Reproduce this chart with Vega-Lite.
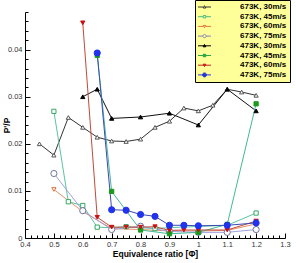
{
  "$schema": "https://vega.github.io/schema/vega-lite/v6.json",
  "width": 260,
  "height": 226,
  "autosize": {"type": "none"},
  "padding": {"left": 25, "top": 12, "right": 11, "bottom": 25},
  "background": "white",
  "config": {"view": {"stroke": null}, "font": "Liberation Sans", "axis": {"labelOverlap": false, "labelFlush": false}},
  "data": {
    "values": [
      {"s": "673K, 30m/s", "x": 0.45, "y": 0.0200},
      {"s": "673K, 30m/s", "x": 0.5, "y": 0.0176},
      {"s": "673K, 30m/s", "x": 0.55, "y": 0.0256},
      {"s": "673K, 30m/s", "x": 0.6, "y": 0.0235},
      {"s": "673K, 30m/s", "x": 0.65, "y": 0.0214},
      {"s": "673K, 30m/s", "x": 0.7, "y": 0.0206},
      {"s": "673K, 30m/s", "x": 0.75, "y": 0.0205},
      {"s": "673K, 30m/s", "x": 0.8, "y": 0.0210},
      {"s": "673K, 30m/s", "x": 0.85, "y": 0.0235},
      {"s": "673K, 30m/s", "x": 0.9, "y": 0.0248},
      {"s": "673K, 30m/s", "x": 0.95, "y": 0.0276},
      {"s": "673K, 30m/s", "x": 1.0, "y": 0.0270},
      {"s": "673K, 30m/s", "x": 1.05, "y": 0.0282},
      {"s": "673K, 30m/s", "x": 1.1, "y": 0.0316},
      {"s": "673K, 30m/s", "x": 1.15, "y": 0.0310},
      {"s": "673K, 30m/s", "x": 1.2, "y": 0.0303},
      {"s": "673K, 45m/s", "x": 0.5, "y": 0.0269},
      {"s": "673K, 45m/s", "x": 0.55, "y": 0.0077},
      {"s": "673K, 45m/s", "x": 0.6, "y": 0.0069},
      {"s": "673K, 45m/s", "x": 0.65, "y": 0.0023},
      {"s": "673K, 45m/s", "x": 0.7, "y": 0.0022},
      {"s": "673K, 45m/s", "x": 0.75, "y": 0.0024},
      {"s": "673K, 45m/s", "x": 0.8, "y": 0.0022},
      {"s": "673K, 45m/s", "x": 0.85, "y": 0.0020},
      {"s": "673K, 45m/s", "x": 0.9, "y": 0.0022},
      {"s": "673K, 45m/s", "x": 1.1, "y": 0.0027},
      {"s": "673K, 45m/s", "x": 1.2, "y": 0.0053},
      {"s": "673K, 60m/s", "x": 0.5, "y": 0.0103},
      {"s": "673K, 60m/s", "x": 0.6, "y": 0.0056},
      {"s": "673K, 60m/s", "x": 0.7, "y": 0.0020},
      {"s": "673K, 60m/s", "x": 0.8, "y": 0.0018},
      {"s": "673K, 60m/s", "x": 0.9, "y": 0.0015},
      {"s": "673K, 60m/s", "x": 1.0, "y": 0.0015},
      {"s": "673K, 60m/s", "x": 1.1, "y": 0.0016},
      {"s": "673K, 60m/s", "x": 1.2, "y": 0.0030},
      {"s": "673K, 75m/s", "x": 0.5, "y": 0.0137},
      {"s": "673K, 75m/s", "x": 0.6, "y": 0.0058},
      {"s": "673K, 75m/s", "x": 0.7, "y": 0.0018},
      {"s": "673K, 75m/s", "x": 0.8, "y": 0.0025},
      {"s": "673K, 75m/s", "x": 0.9, "y": 0.0014},
      {"s": "673K, 75m/s", "x": 1.0, "y": 0.0012},
      {"s": "673K, 75m/s", "x": 1.1, "y": 0.0012},
      {"s": "673K, 75m/s", "x": 1.2, "y": 0.0018},
      {"s": "473K, 30m/s", "x": 0.6, "y": 0.0300},
      {"s": "473K, 30m/s", "x": 0.65, "y": 0.0316},
      {"s": "473K, 30m/s", "x": 0.7, "y": 0.0254},
      {"s": "473K, 30m/s", "x": 0.8, "y": 0.0257},
      {"s": "473K, 30m/s", "x": 0.9, "y": 0.0265},
      {"s": "473K, 30m/s", "x": 1.0, "y": 0.0240},
      {"s": "473K, 30m/s", "x": 1.1, "y": 0.0316},
      {"s": "473K, 30m/s", "x": 1.2, "y": 0.0270},
      {"s": "473K, 45m/s", "x": 0.65, "y": 0.0388},
      {"s": "473K, 45m/s", "x": 0.7, "y": 0.0099},
      {"s": "473K, 45m/s", "x": 0.8, "y": 0.0017},
      {"s": "473K, 45m/s", "x": 0.9, "y": 0.0009},
      {"s": "473K, 45m/s", "x": 1.0, "y": 0.0012},
      {"s": "473K, 45m/s", "x": 1.1, "y": 0.0029},
      {"s": "473K, 45m/s", "x": 1.2, "y": 0.0285},
      {"s": "473K, 60m/s", "x": 0.6, "y": 0.0457},
      {"s": "473K, 60m/s", "x": 0.65, "y": 0.0044},
      {"s": "473K, 60m/s", "x": 0.7, "y": 0.0023},
      {"s": "473K, 60m/s", "x": 0.75, "y": 0.0023},
      {"s": "473K, 60m/s", "x": 0.8, "y": 0.0023},
      {"s": "473K, 60m/s", "x": 0.85, "y": 0.0024},
      {"s": "473K, 60m/s", "x": 0.9, "y": 0.0016},
      {"s": "473K, 60m/s", "x": 0.95, "y": 0.0017},
      {"s": "473K, 60m/s", "x": 1.0, "y": 0.0017},
      {"s": "473K, 60m/s", "x": 1.1, "y": 0.0017},
      {"s": "473K, 60m/s", "x": 1.2, "y": 0.0036},
      {"s": "473K, 75m/s", "x": 0.65, "y": 0.0393},
      {"s": "473K, 75m/s", "x": 0.7, "y": 0.0060},
      {"s": "473K, 75m/s", "x": 0.75, "y": 0.0059},
      {"s": "473K, 75m/s", "x": 0.8, "y": 0.0050},
      {"s": "473K, 75m/s", "x": 0.85, "y": 0.0046},
      {"s": "473K, 75m/s", "x": 0.9, "y": 0.0027},
      {"s": "473K, 75m/s", "x": 0.95, "y": 0.0027},
      {"s": "473K, 75m/s", "x": 1.0, "y": 0.0026},
      {"s": "473K, 75m/s", "x": 1.1, "y": 0.0027},
      {"s": "473K, 75m/s", "x": 1.2, "y": 0.0032}
    ]
  },
  "layer": [
    {
      "mark": {"type": "line", "strokeWidth": 1},
      "encoding": {
        "x": {
          "field": "x", "type": "quantitative",
          "scale": {"domain": [0.4, 1.3], "nice": false, "zero": false},
          "axis": {
            "values": [0.4,0.42,0.44,0.46,0.48,0.5,0.52,0.54,0.56,0.58,0.6,0.62,0.64,0.66,0.68,0.7,0.72,0.74,0.76,0.78,0.8,0.82,0.84,0.86,0.88,0.9,0.92,0.94,0.96,0.98,1.0,1.02,1.04,1.06,1.08,1.1,1.12,1.14,1.16,1.18,1.2,1.22,1.24,1.26,1.28,1.3],
            "tickCount": 200,
            "labelExpr": "abs(datum.value*10-round(datum.value*10))<0.001 ? format(datum.value,'.1~f') : ''",
            "tickSize": {"condition": {"test": "abs(datum.value*10-round(datum.value*10))<0.001", "value": -5}, "value": -3},
            "labelOverlap": false,
            "labelFlush": false,
            "grid": false,
            "domainColor": "#000000",
            "tickColor": "#000000",
            "labelColor": "#333333",
            "labelFontSize": 7.5,
            "labelPadding": 7,
            "title": "Equivalence ratio [Φ]",
            "titleFontSize": 8.5,
            "titleFontWeight": "bold",
            "titleColor": "#000000",
            "titlePadding": 0
          }
        },
        "y": {
          "field": "y", "type": "quantitative",
          "scale": {"domain": [0, 0.048], "nice": false, "zero": true},
          "axis": {
            "values": [0,0.002,0.004,0.006,0.008,0.01,0.012,0.014,0.016,0.018,0.02,0.022,0.024,0.026,0.028,0.03,0.032,0.034,0.036,0.038,0.04,0.042,0.044,0.046,0.048],
            "tickCount": 200,
            "labelExpr": "abs(datum.value*100-round(datum.value*100))<0.001 ? format(datum.value,'.2~f') : ''",
            "tickSize": {"condition": {"test": "abs(datum.value*100-round(datum.value*100))<0.001", "value": -5}, "value": -3},
            "labelOverlap": false,
            "labelFlush": false,
            "grid": false,
            "domainColor": "#000000",
            "tickColor": "#000000",
            "labelColor": "#333333",
            "labelFontSize": 7.5,
            "labelPadding": 8,
            "title": "P'/P",
            "titleFontSize": 8.5,
            "titleFontWeight": "bold",
            "titleColor": "#000000",
            "titlePadding": -4
          }
        },
        "color": {
          "field": "s", "type": "nominal",
          "scale": {
            "domain": ["673K, 30m/s","673K, 45m/s","673K, 60m/s","673K, 75m/s","473K, 30m/s","473K, 45m/s","473K, 60m/s","473K, 75m/s"],
            "range": ["#333333","#5cc4a0","#e8906a","#a0a0dd","#111111","#44b898","#c04a3a","#3a4bb0"]
          },
          "legend": null
        }
      }
    },
    {
      "mark": {"type": "point", "strokeWidth": 1, "opacity": 1},
      "encoding": {
        "x": {"field": "x", "type": "quantitative"},
        "y": {"field": "y", "type": "quantitative"},
        "shape": {
          "field": "s", "type": "nominal",
          "scale": {
            "domain": ["673K, 30m/s","673K, 45m/s","673K, 60m/s","673K, 75m/s","473K, 30m/s","473K, 45m/s","473K, 60m/s","473K, 75m/s"],
            "range": ["triangle-up","square","triangle-down","circle","triangle-up","square","triangle-down","circle"]
          },
          "legend": null
        },
        "stroke": {
          "field": "s", "type": "nominal",
          "scale": {
            "domain": ["673K, 30m/s","673K, 45m/s","673K, 60m/s","673K, 75m/s","473K, 30m/s","473K, 45m/s","473K, 60m/s","473K, 75m/s"],
            "range": ["#555555","#33aa66","#e07040","#7070a0","#000000","#1a9a1a","#cc1111","#2030f0"]
          },
          "legend": null
        },
        "fill": {
          "field": "s", "type": "nominal",
          "scale": {
            "domain": ["673K, 30m/s","673K, 45m/s","673K, 60m/s","673K, 75m/s","473K, 30m/s","473K, 45m/s","473K, 60m/s","473K, 75m/s"],
            "range": ["#ffffff","#ffffff","#ffffff","#ffffff","#000000","#1a9a1a","#cc1111","#2233ee"]
          },
          "legend": null
        },
        "size": {"condition": {"test": "datum.s == '473K, 75m/s' || datum.s == '673K, 75m/s'", "value": 38}, "value": 18}
      }
    },
    {
      "data": {"values": []},
      "mark": {"type": "point", "strokeWidth": 1, "opacity": 1, "size": 25},
      "encoding": {
        "shape": {
          "field": "s", "type": "nominal",
          "scale": {
            "domain": ["673K, 30m/s","673K, 45m/s","673K, 60m/s","673K, 75m/s","473K, 30m/s","473K, 45m/s","473K, 60m/s","473K, 75m/s"],
            "range": [
              "M-1.6,0H0.5M1.5,0H3.6M1,-0.55L1.55,0.4L0.45,0.4Z",
              "M-1.6,0H0.5M1.5,0H3.6M0.5,-0.5H1.5V0.5H0.5Z",
              "M-1.6,0H0.45M1.55,0H3.6M0.45,-0.4H1.55L1,0.55Z",
              "M-1.6,0H0.35M1.65,0H3.6M0.35,0A0.65,0.65 0 1,1 1.65,0A0.65,0.65 0 1,1 0.35,0Z",
              "M-1.6,0H3.6M1,-0.55L1.55,0.4L0.45,0.4Z",
              "M-1.6,0H3.6M0.5,-0.5H1.5V0.5H0.5Z",
              "M-1.6,0H3.6M0.45,-0.4H1.55L1,0.55Z",
              "M-1.6,0H3.6M0.2,0A0.8,0.8 0 1,1 1.8,0A0.8,0.8 0 1,1 0.2,0Z"
            ]
          },
          "legend": {
            "title": null,
            "orient": "none",
            "legendX": 170,
            "legendY": -12,
            "fillColor": "#ffff99",
            "strokeColor": "#000000",
            "padding": 3,
            "symbolSize": 25,
            "symbolStrokeWidth": 1,
            "labelFontSize": 8,
            "labelFontWeight": "bold",
            "labelColor": "#000000",
            "labelOffset": 34,
            "rowPadding": 1.7
          }
        },
        "stroke": {
          "field": "s", "type": "nominal",
          "scale": {
            "domain": ["673K, 30m/s","673K, 45m/s","673K, 60m/s","673K, 75m/s","473K, 30m/s","473K, 45m/s","473K, 60m/s","473K, 75m/s"],
            "range": ["#333333","#4cbb88","#e07848","#8080b8","#000000","#2aa84a","#c02020","#2a3ad0"]
          }
        },
        "fill": {
          "field": "s", "type": "nominal",
          "scale": {
            "domain": ["673K, 30m/s","673K, 45m/s","673K, 60m/s","673K, 75m/s","473K, 30m/s","473K, 45m/s","473K, 60m/s","473K, 75m/s"],
            "range": ["#ffff99","#ffff99","#ffff99","#ffff99","#000000","#1a9a1a","#cc1111","#2233ee"]
          }
        }
      }
    }
  ],
  "resolve": {"scale": {"shape": "independent", "fill": "independent", "stroke": "independent"}}
}
